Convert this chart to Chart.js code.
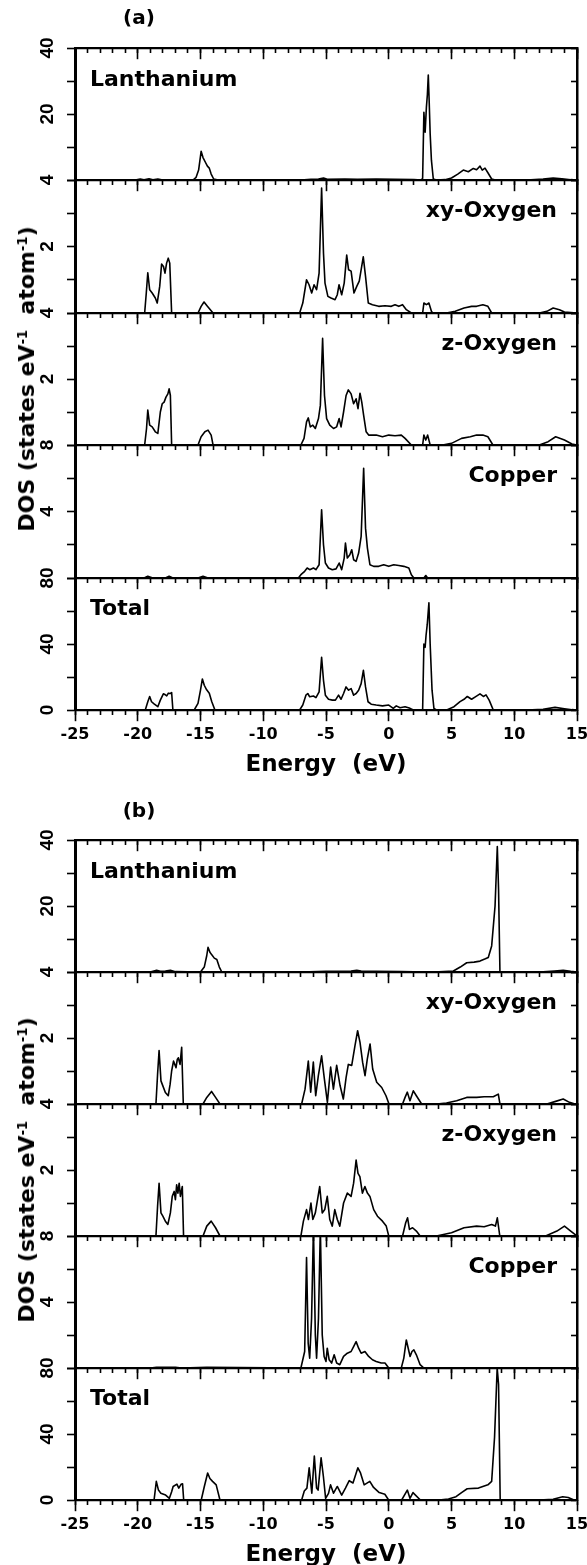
<!DOCTYPE html>
<html><head><meta charset="utf-8">
<script src="https://cdn.jsdelivr.net/npm/chart.js@4.4.1/dist/chart.umd.min.js"></script>
<style>
html,body{margin:0;padding:0;background:#fff;}
#wrap{position:relative;width:587px;height:1565px;overflow:hidden;background:#fff;}
#wrap canvas{position:absolute;left:0;}
.t{position:absolute;font-family:"DejaVu Sans",sans-serif;font-weight:bold;color:#000;line-height:1;white-space:pre;}
.t sup{font-size:60%;vertical-align:0.55em;line-height:0;}
</style></head><body><div id="wrap"></div>
<script>
// ---------- data ----------
const energyTicks = [-25, -20, -15, -10, -5, 0, 5, 10, 15];
const panelNames = ['Lanthanium', 'xy-Oxygen', 'z-Oxygen', 'Copper', 'Total'];
const panelMax = [40, 4, 4, 8, 80];
const panelMinorStep = [10, 1, 1, 2, 20];
const panelTickLabels = [[20, 40], [2, 4], [2, 4], [4, 8], [0, 40, 80]];
const groupLabels = ['(a)', '(b)'];

// (a) [energy eV, DOS]
const aLa = [[-25,0],[-20.2,0],[-19.8,0.3],[-19.5,0.1],[-19.1,0.4],[-18.8,0.1],[-18.4,0.3],[-18,0],[-15.6,0],[-15.35,0.8],[-15.15,3],[-14.95,8.7],[-14.8,6.8],[-14.6,5.3],[-14.45,4.2],[-14.3,3.6],[-14.15,1.8],[-13.95,0.3],[-13.6,0],[-7,0],[-6.2,0.2],[-5.6,0.3],[-5.2,0.6],[-4.9,0.2],[-3.5,0.3],[-2.5,0.2],[-1,0.3],[0.5,0.2],[2,0.1],[2.6,0],[2.7,0.5],[2.8,20.5],[2.9,14.5],[3.0,22],[3.08,26],[3.15,31.8],[3.22,24],[3.3,14],[3.4,6],[3.55,0.3],[3.8,0],[4.5,0.1],[5.0,0.6],[5.5,1.8],[5.94,3],[6.34,2.5],[6.74,3.5],[7.0,3.1],[7.27,4.2],[7.45,3],[7.67,3.6],[7.9,2.2],[8.2,0.3],[8.5,0],[11,0],[12.3,0.3],[13.1,0.6],[13.8,0.4],[14.5,0.1],[15,0]];
const aXy = [[-25,0],[-19.45,0],[-19.32,0.6],[-19.2,1.21],[-19.05,0.7],[-18.85,0.6],[-18.6,0.45],[-18.45,0.3],[-18.25,0.8],[-18.1,1.47],[-17.95,1.4],[-17.83,1.2],[-17.7,1.5],[-17.57,1.65],[-17.45,1.5],[-17.3,0],[-15.2,0],[-14.95,0.2],[-14.72,0.33],[-14.45,0.2],[-14.0,0],[-7.1,0],[-6.85,0.3],[-6.55,1.0],[-6.35,0.85],[-6.14,0.6],[-5.95,0.85],[-5.75,0.7],[-5.55,1.2],[-5.35,3.76],[-5.2,1.8],[-5.08,0.9],[-4.85,0.5],[-4.6,0.45],[-4.28,0.4],[-4.1,0.55],[-3.96,0.85],[-3.75,0.55],[-3.55,0.9],[-3.35,1.74],[-3.2,1.3],[-3.0,1.26],[-2.77,0.6],[-2.55,0.8],[-2.35,0.96],[-2.03,1.69],[-1.85,1.1],[-1.63,0.3],[-1.3,0.25],[-0.8,0.2],[-0.3,0.22],[0.2,0.2],[0.5,0.25],[0.8,0.2],[1.1,0.25],[1.4,0.1],[1.8,0],[2.7,0],[2.8,0.3],[3.0,0.25],[3.2,0.3],[3.4,0.05],[3.5,0],[4.6,0],[5.3,0.05],[6.0,0.15],[6.6,0.2],[7.0,0.2],[7.5,0.25],[7.9,0.2],[8.2,0],[12.0,0],[12.6,0.05],[13.1,0.15],[13.6,0.1],[14.0,0.03],[15,0]];
const aZ = [[-25,0],[-19.45,0],[-19.3,0.5],[-19.2,1.06],[-19.05,0.6],[-18.85,0.55],[-18.6,0.4],[-18.4,0.35],[-18.2,1.0],[-18.05,1.25],[-17.9,1.3],[-17.75,1.45],[-17.6,1.55],[-17.5,1.7],[-17.4,1.5],[-17.3,0],[-15.2,0],[-14.95,0.25],[-14.65,0.4],[-14.4,0.45],[-14.15,0.3],[-14.0,0],[-7.0,0],[-6.75,0.2],[-6.55,0.7],[-6.41,0.82],[-6.25,0.55],[-6.05,0.6],[-5.85,0.5],[-5.6,0.8],[-5.45,1.2],[-5.27,3.23],[-5.12,1.5],[-4.95,0.8],[-4.7,0.6],[-4.4,0.5],[-4.15,0.55],[-3.95,0.8],[-3.8,0.55],[-3.6,1.0],[-3.4,1.5],[-3.22,1.67],[-3.0,1.55],[-2.8,1.25],[-2.6,1.4],[-2.45,1.1],[-2.29,1.57],[-2.15,1.3],[-2.0,0.9],[-1.8,0.4],[-1.6,0.3],[-1.0,0.3],[-0.5,0.25],[0,0.3],[0.5,0.28],[1.0,0.3],[1.3,0.2],[1.8,0],[2.7,0],[2.8,0.3],[2.95,0.15],[3.1,0.3],[3.3,0],[4.3,0],[5.0,0.05],[5.8,0.2],[6.5,0.25],[7.0,0.3],[7.5,0.3],[7.9,0.25],[8.3,0],[12,0],[12.7,0.1],[13.3,0.25],[14.0,0.15],[14.6,0.03],[15,0]];
const aCu = [[-25,0],[-19.5,0],[-19.2,0.1],[-18.8,0],[-17.8,0],[-17.5,0.1],[-17.2,0],[-15.2,0],[-14.8,0.1],[-14.4,0],[-7.2,0],[-7.0,0.2],[-6.7,0.4],[-6.5,0.6],[-6.3,0.5],[-6.0,0.6],[-5.8,0.5],[-5.55,0.8],[-5.35,4.1],[-5.2,2.0],[-5.05,0.9],[-4.8,0.6],[-4.5,0.5],[-4.2,0.55],[-3.95,0.9],[-3.75,0.5],[-3.55,1.2],[-3.45,2.1],[-3.3,1.2],[-3.1,1.4],[-2.95,1.7],[-2.8,1.1],[-2.6,1.0],[-2.4,1.5],[-2.2,2.5],[-2.0,6.6],[-1.85,3.0],[-1.7,1.8],[-1.5,0.8],[-1.2,0.7],[-0.8,0.7],[-0.4,0.8],[0,0.7],[0.4,0.8],[0.8,0.75],[1.2,0.7],[1.6,0.6],[1.8,0.2],[2.0,0],[2.8,0],[2.95,0.15],[3.1,0],[15,0]];
const aTot = [[-25,0],[-19.4,0],[-19.2,5],[-19.05,8.2],[-18.9,5],[-18.7,3.7],[-18.4,2],[-18.2,6],[-17.96,9.8],[-17.8,9.2],[-17.69,8.6],[-17.56,10.2],[-17.4,10],[-17.3,10.6],[-17.2,0],[-15.5,0],[-15.2,4],[-15.0,12],[-14.85,18.8],[-14.7,15],[-14.51,12.2],[-14.3,10.2],[-14.1,5],[-13.85,0],[-7.1,0],[-6.85,3],[-6.6,9],[-6.45,10],[-6.3,8],[-6.0,8.5],[-5.8,7.5],[-5.55,11],[-5.35,32],[-5.2,18],[-5.05,9],[-4.8,6.5],[-4.5,6],[-4.25,6],[-4.0,9],[-3.8,6.5],[-3.6,10],[-3.4,14],[-3.2,12],[-3.0,13],[-2.8,9],[-2.6,10],[-2.4,12],[-2.2,16],[-2.02,24],[-1.85,14],[-1.65,5],[-1.4,3.5],[-1.0,3],[-0.5,2.5],[0,3],[0.36,1],[0.6,2.5],[0.9,1.4],[1.3,2],[1.7,1],[1.96,0],[2.7,0],[2.8,40],[2.9,38],[2.97,45],[3.07,52],[3.2,65],[3.3,40],[3.45,12],[3.6,1],[3.8,0],[4.62,0],[5.2,2],[5.68,5.1],[6.0,6.5],[6.26,8.2],[6.6,6.5],[6.9,8],[7.27,9.8],[7.54,8.2],[7.75,9.2],[8.0,6],[8.33,0],[11,0],[12.3,0.5],[13.25,1.6],[14.0,0.8],[14.6,0.2],[15,0]];

// (b)
const bLa = [[-25,0],[-19,0],[-18.5,0.5],[-18.2,0.2],[-17.8,0.3],[-17.4,0.5],[-17.0,0.1],[-15,0],[-14.7,1.5],[-14.5,5],[-14.4,7.5],[-14.25,6],[-14.1,5.2],[-13.9,4.2],[-13.7,3.8],[-13.5,1.5],[-13.3,0],[-7,0],[-5,0.2],[-3,0.3],[-2.55,0.5],[-2.2,0.3],[-1,0.2],[1,0.1],[3,0],[4,0.05],[5.15,0.3],[5.7,1.5],[6.21,2.8],[6.8,3],[7.27,3.3],[7.7,4],[7.93,4.4],[8.2,7.9],[8.47,20],[8.65,38],[8.75,25],[8.86,0],[9.2,0],[12,0],[13.2,0.3],[13.9,0.5],[14.5,0.2],[15,0]];
const bXy = [[-25,0],[-18.55,0],[-18.42,0.9],[-18.3,1.62],[-18.15,0.7],[-18.0,0.55],[-17.8,0.35],[-17.57,0.25],[-17.42,0.6],[-17.3,1.0],[-17.15,1.3],[-17.05,1.2],[-16.95,1.1],[-16.85,1.35],[-16.77,1.4],[-16.63,1.2],[-16.5,1.72],[-16.37,0],[-14.8,0],[-14.5,0.2],[-14.12,0.38],[-13.8,0.2],[-13.45,0],[-6.94,0],[-6.67,0.45],[-6.41,1.3],[-6.22,0.36],[-6.01,1.27],[-5.82,0.25],[-5.61,0.86],[-5.35,1.46],[-5.13,0.76],[-4.89,0.05],[-4.63,1.12],[-4.41,0.45],[-4.15,1.17],[-3.88,0.56],[-3.62,0.15],[-3.4,0.8],[-3.22,1.2],[-2.95,1.17],[-2.69,1.77],[-2.48,2.22],[-2.29,1.87],[-2.08,1.26],[-1.89,0.86],[-1.71,1.36],[-1.49,1.82],[-1.28,1.06],[-0.96,0.66],[-0.56,0.5],[-0.22,0.25],[0.02,0],[1.1,0],[1.3,0.2],[1.48,0.36],[1.69,0.1],[1.96,0.4],[2.2,0.25],[2.62,0],[3.82,0],[4.6,0.03],[5.41,0.1],[6.21,0.2],[7.0,0.2],[7.6,0.22],[8.33,0.22],[8.73,0.3],[8.86,0],[12.6,0],[13.3,0.08],[13.9,0.15],[14.4,0.05],[14.84,0],[15,0]];
const bZ = [[-25,0],[-18.55,0],[-18.42,0.9],[-18.3,1.6],[-18.15,0.7],[-18.0,0.6],[-17.8,0.45],[-17.6,0.35],[-17.4,0.7],[-17.25,1.2],[-17.1,1.35],[-17.0,1.1],[-16.9,1.55],[-16.8,1.3],[-16.7,1.6],[-16.6,1.2],[-16.45,1.5],[-16.35,0],[-14.8,0],[-14.5,0.3],[-14.15,0.45],[-13.8,0.25],[-13.45,0],[-7.0,0],[-6.8,0.45],[-6.55,0.8],[-6.4,0.5],[-6.2,1.0],[-6.05,0.5],[-5.85,0.7],[-5.5,1.5],[-5.3,0.7],[-5.1,0.8],[-4.9,1.2],[-4.7,0.5],[-4.5,0.3],[-4.3,0.8],[-4.1,0.5],[-3.9,0.3],[-3.6,1.0],[-3.3,1.3],[-3.0,1.2],[-2.8,1.6],[-2.6,2.3],[-2.45,1.9],[-2.3,1.8],[-2.1,1.3],[-1.9,1.5],[-1.7,1.3],[-1.5,1.2],[-1.2,0.8],[-0.9,0.6],[-0.5,0.45],[-0.2,0.3],[0,0],[1.1,0],[1.35,0.4],[1.5,0.55],[1.65,0.2],[1.9,0.25],[2.2,0.15],[2.5,0],[3.8,0],[5,0.1],[6,0.25],[7,0.3],[7.6,0.28],[8.2,0.35],[8.5,0.3],[8.65,0.55],[8.85,0],[12.5,0],[13.4,0.15],[14.0,0.3],[14.5,0.15],[15,0]];
const bCu = [[-25,0],[-19,0],[-18.5,0.05],[-17,0.05],[-16.5,0],[-14.5,0.05],[-7.0,0],[-6.85,0.5],[-6.7,1.0],[-6.55,6.7],[-6.42,1.5],[-6.3,0.6],[-6.15,3],[-6.0,8.5],[-5.85,2],[-5.75,0.6],[-5.6,3],[-5.45,8.5],[-5.3,2],[-5.15,0.7],[-5.0,0.4],[-4.9,1.2],[-4.75,0.5],[-4.55,0.3],[-4.35,0.8],[-4.15,0.3],[-3.9,0.2],[-3.6,0.7],[-3.3,0.9],[-3.0,1.0],[-2.8,1.3],[-2.6,1.6],[-2.4,1.2],[-2.2,0.9],[-1.9,1.0],[-1.6,0.7],[-1.3,0.5],[-1.0,0.4],[-0.6,0.3],[-0.3,0.3],[0,0],[1.0,0],[1.2,0.6],[1.4,1.7],[1.55,1.2],[1.7,0.7],[1.85,1.0],[2.0,1.1],[2.2,0.8],[2.5,0.2],[2.8,0],[15,0]];
const bTot = [[-25,0],[-18.7,0],[-18.52,11.3],[-18.35,6],[-18.16,4.1],[-17.78,3],[-17.48,1],[-17.3,5],[-17.18,8.2],[-16.88,9.6],[-16.73,7.2],[-16.55,9.5],[-16.43,9.8],[-16.34,0],[-14.94,0],[-14.7,8],[-14.43,16.4],[-14.25,13],[-14.04,11.3],[-13.75,9.2],[-13.45,0],[-6.94,0],[-6.73,5.5],[-6.52,7.2],[-6.34,19.5],[-6.13,4.1],[-5.93,26.7],[-5.75,7.2],[-5.63,6],[-5.39,25.6],[-5.21,14.4],[-5.03,1],[-4.8,4],[-4.64,9.2],[-4.4,4.1],[-4.1,8.2],[-3.75,3],[-3.45,7.2],[-3.15,11.7],[-2.85,10.3],[-2.46,19.5],[-2.25,16.4],[-1.96,9.2],[-1.51,11.3],[-1.21,7.6],[-0.76,4.5],[-0.31,3.5],[-0.01,0],[1.03,0],[1.48,6],[1.69,1],[1.93,4.5],[2.52,0],[4.0,0],[4.76,0.6],[5.36,2],[5.8,4.5],[6.25,6.8],[7.15,7.2],[7.9,9.2],[8.2,11.3],[8.43,38],[8.64,80],[8.75,70],[8.88,0],[12,0],[13.1,0.5],[13.86,2],[14.3,1.5],[14.76,0],[15,0]];

const groupA = [aLa, aXy, aZ, aCu, aTot];
const groupB = [bLa, bXy, bZ, bCu, bTot];

// ---------- layout ----------
const W = 587, PLOT_L = 75, PLOT_R = 577;
const groups = [
  { series: groupA, top: 48, ph: 132.4, label: groupLabels[0], labelY: 17 },
  { series: groupB, top: 840, ph: 132, label: groupLabels[1], labelY: 810 }
];
const wrap = document.getElementById('wrap');
const fontY = { family: '"Liberation Sans", Arial, sans-serif', size: 19, weight: 'bold' };
const fontX = { family: '"DejaVu Sans", sans-serif', size: 16, weight: 'bold' };
const mctx = document.createElement('canvas').getContext('2d');
mctx.font = 'bold 19px "Liberation Sans", Arial, sans-serif';

function addText(html, left, top, extra) {
  const d = document.createElement('div');
  d.className = 't';
  d.innerHTML = html;
  d.style.left = left + 'px';
  d.style.top = top + 'px';
  Object.assign(d.style, extra || {});
  wrap.appendChild(d);
  return d;
}

const noPad = (s) => { s.paddingLeft = 0; s.paddingRight = 0; s.paddingTop = 0; s.paddingBottom = 0; };

function makePanel(top, bottom, idx, pts, isLast) {
  const PAD = 36;
  const below = isLast ? 60 : PAD;
  const h = bottom - top;
  const cv = document.createElement('canvas');
  cv.width = W; cv.height = h + PAD + below;
  cv.style.top = (top - PAD) + 'px';
  wrap.appendChild(cv);
  const ymax = panelMax[idx], step = panelMinorStep[idx], labs = panelTickLabels[idx];
  const widest = Math.max(...labs.map(v => mctx.measureText(String(v)).width));
  const lblPad = 19 - widest / 2;
  const tickGrid = (len) => ({ drawOnChartArea: false, drawTicks: true, tickLength: len, tickWidth: 1.6, tickColor: '#000' });
  const scales = {
    y: {
      type: 'linear', position: 'left', min: 0, max: ymax,
      afterFit: (s) => { s.width = PLOT_L; noPad(s); },
      ticks: { stepSize: step, autoSkip: false, minRotation: 90, maxRotation: 90, crossAlign: 'center',
               padding: lblPad, color: '#000', font: fontY,
               callback: (v) => labs.includes(v) ? String(v) : '' },
      grid: tickGrid(8),
      border: { display: true, width: 3, color: '#000' }
    },
    yR: {
      type: 'linear', axis: 'y', position: { xTop: 15 }, min: 0, max: ymax,
      afterFit: noPad,
      ticks: { display: false, stepSize: step },
      grid: tickGrid(5),
      border: { display: true, width: 2.5, color: '#000' }
    },
    xTop: {
      type: 'linear', axis: 'x', position: { y: ymax }, min: -25, max: 15,
      afterFit: noPad,
      ticks: { display: false, stepSize: 5 },
      grid: tickGrid(10),
      border: { display: true, width: 2.2, color: '#000' }
    },
    xTopMinor: {
      type: 'linear', axis: 'x', position: { y: ymax }, min: -25, max: 15,
      afterFit: noPad,
      ticks: { display: false, stepSize: 1 },
      grid: tickGrid(5),
      border: { display: false }
    }
  };
  if (isLast) {
    scales.xBot = {
      type: 'linear', axis: 'x', position: { y: 0 }, min: -25, max: 15,
      afterBuildTicks: (s) => { s.ticks = energyTicks.map(v => ({ value: v })); },
      afterFit: noPad,
      ticks: { display: true, autoSkip: false, maxRotation: 0, padding: 5, color: '#000', font: fontX },
      grid: tickGrid(10),
      border: { display: true, width: 2.2, color: '#000' }
    };
    scales.xBotMinor = {
      type: 'linear', axis: 'x', position: { y: 0 }, min: -25, max: 15,
      afterFit: noPad,
      ticks: { display: false, stepSize: 1 },
      grid: tickGrid(5),
      border: { display: false }
    };
  }
  new Chart(cv, {
    type: 'line',
    data: { datasets: [{
      data: pts.map(p => ({ x: p[0], y: p[1] })),
      xAxisID: 'xTop', yAxisID: 'y',
      borderColor: '#000', borderWidth: 1.6, pointRadius: 0, tension: 0, fill: false,
      borderJoinStyle: 'round', borderCapStyle: 'round'
    }] },
    options: {
      responsive: false, maintainAspectRatio: false, animation: false, devicePixelRatio: 1,
      events: [],
      layout: { padding: { top: PAD, bottom: cv.height - PAD - h, left: 0, right: W - PLOT_R } },
      plugins: { legend: { display: false }, tooltip: { enabled: false } },
      scales
    }
  });
  // panel name
  const name = panelNames[idx];
  const cy = top + (idx === 0 ? 31 : 30);
  if (idx === 0 || idx === 4) {
    addText(name, 90, cy, { fontSize: '22px', transform: 'translateY(-50%)' });
  } else {
    addText(name, 0, cy, { fontSize: '22px', transform: 'translateY(-50%)', right: (W - 557) + 'px', left: 'auto' });
  }
}

groups.forEach(g => {
  const edges = [];
  for (let i = 0; i <= 5; i++) edges.push(Math.round(g.top + i * g.ph));
  g.series.forEach((pts, i) => makePanel(edges[i], edges[i + 1], i, pts, i === 4));
  const bottom = edges[5];
  const mid = (g.top + bottom) / 2;
  addText(g.label, 139, g.labelY, { fontSize: '20px', transform: 'translate(-50%,-50%)' });
  addText('Energy  (eV)', (PLOT_L + PLOT_R) / 2, bottom + 53, { fontSize: '23px', transform: 'translate(-50%,-50%)' });
  addText('DOS (states eV<sup>-1</sup>  atom<sup>-1</sup>)', 27, mid, { fontSize: '22px', transform: 'translate(-50%,-50%) rotate(-90deg)' });
});
</script></body></html>
